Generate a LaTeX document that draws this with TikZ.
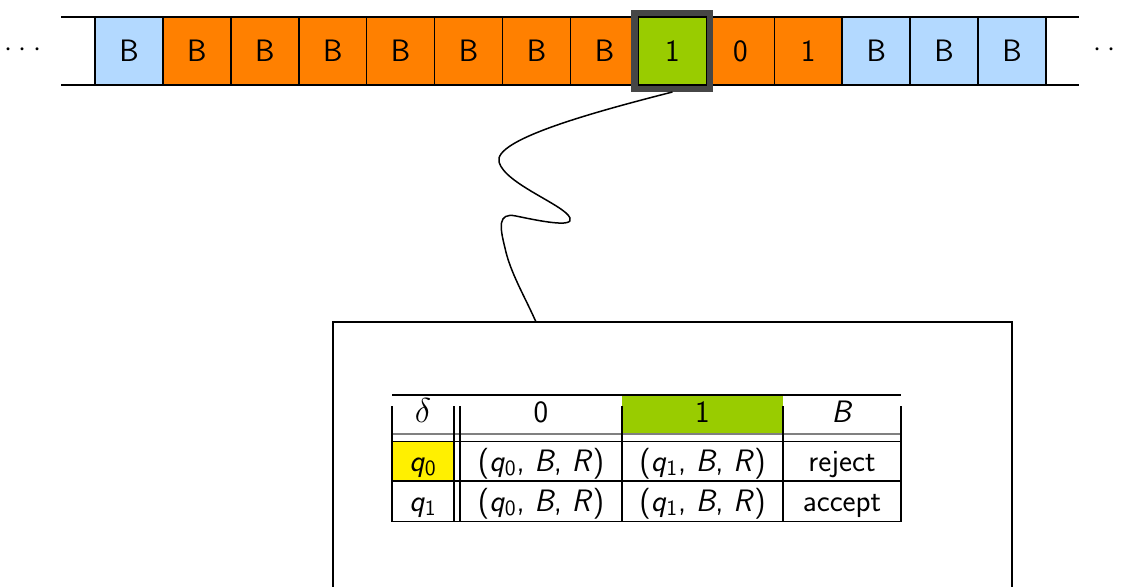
\documentclass[tikz,border=0pt]{standalone}
\usepackage{amsmath}
\definecolor{tapeblue}{RGB}{179,217,255}
\definecolor{tapeorange}{RGB}{255,128,0}
\definecolor{tapegreen}{RGB}{153,204,0}
\definecolor{headgray}{RGB}{70,70,70}
\definecolor{qyellow}{RGB}{255,240,0}
\newcommand\qs[1]{\textit{q}$_{\text{#1}}$}
\newcommand\tapedots{$\cdot$\kern3.2pt$\cdot$\kern3.2pt$\cdot$}
\begin{document}
\begin{tikzpicture}[x=0.5pt,y=-0.5pt,
  every node/.style={font=\sffamily\fontsize{15.5}{18}\selectfont, inner sep=0pt},
  cell/.style={draw=black, line width=0.75pt, minimum size=34pt, outer sep=0pt},
  tapeline/.style={line width=0.75pt},
  headframe/.style={draw=headgray, line width=3.5pt, minimum size=37.5pt},
  wire/.style={line width=0.75pt},
  boxline/.style={line width=1pt},
  rule/.style={line width=0.6pt},
  txt/.style={anchor=base}]
\useasboundingbox (0,0) rectangle (1122,586);
\clip (0,0) rectangle (1122,586);
% tape
\draw[tapeline] (61,17) -- (1079,17);
\draw[tapeline] (61,85) -- (1079,85);
\foreach \i/\t/\c in {1/B/tapeblue,2/B/tapeorange,3/B/tapeorange,4/B/tapeorange,
  5/B/tapeorange,6/B/tapeorange,7/B/tapeorange,8/B/tapeorange,9/1/tapegreen,
  10/0/tapeorange,11/1/tapeorange,12/B/tapeblue,13/B/tapeblue,14/B/tapeblue}
  \node[cell, fill=\c] (c\i) at ({95+67.93*(\i-0.5)},51) {\t};
\node (ldots) at (23,50) {\tapedots};
\node (rdots) at (1112,50) {\tapedots};
% head
\node[headframe] (head) at (c9) {};
\draw[line width=0.75pt] (c9.north west) rectangle (c9.south east);
% box
\coordinate (bx1) at (333,322);
\coordinate (bx2) at (1012,640);
\coordinate (tail) at (536,322);
\draw[boxline] (bx1) rectangle (bx2);
% wavy connector
\draw[wire] (head.south) .. controls (590,113) and (493,140) .. (499,162)
  .. controls (505,184) and (565,205) .. (570,218)
  .. controls (574,228) and (540,221) .. (516,216)
  .. controls (497,212) and (500,228) .. (505,248)
  .. controls (510,272) and (525,297) .. (tail);
% table fills
\fill[tapegreen] (622,395) rectangle (783,434);
\fill[qyellow] (392,441.5) rectangle (454,481);
% table rules
\draw[rule] (392,395) -- (901,395);
\draw[rule, gray] (392,434) -- (901,434);
\draw[rule] (392,441.5) -- (901,441.5);
\draw[rule] (392,481) -- (901,481);
\draw[rule] (392,521.5) -- (901,521.5);
\foreach \x in {392,454,460,622,783,901}
  \draw[rule] (\x,406) -- (\x,521.5);
% table text
\node[txt] (td) at (423,422) {\fontsize{17}{20}\selectfont$\delta$};
\node[txt] (th0) at (541,422) {0};
\node[txt] (th1) at (702.5,422) {1};
\node[txt] (thB) at (842,422) {\textit{B}};
\node[txt] (tq0) at (423,471) {\qs{0}};
\node[txt] (t00) at (541,471) {(\qs{0}, \textit{B}, \textit{R})};
\node[txt] (t01) at (702.5,471) {(\qs{1}, \textit{B}, \textit{R})};
\node[txt] (t0B) at (842,471) {reject};
\node[txt] (tq1) at (423,511) {\qs{1}};
\node[txt] (t10) at (541,511) {(\qs{0}, \textit{B}, \textit{R})};
\node[txt] (t11) at (702.5,511) {(\qs{1}, \textit{B}, \textit{R})};
\node[txt] (t1B) at (842,511) {accept};
\end{tikzpicture}
\end{document}
